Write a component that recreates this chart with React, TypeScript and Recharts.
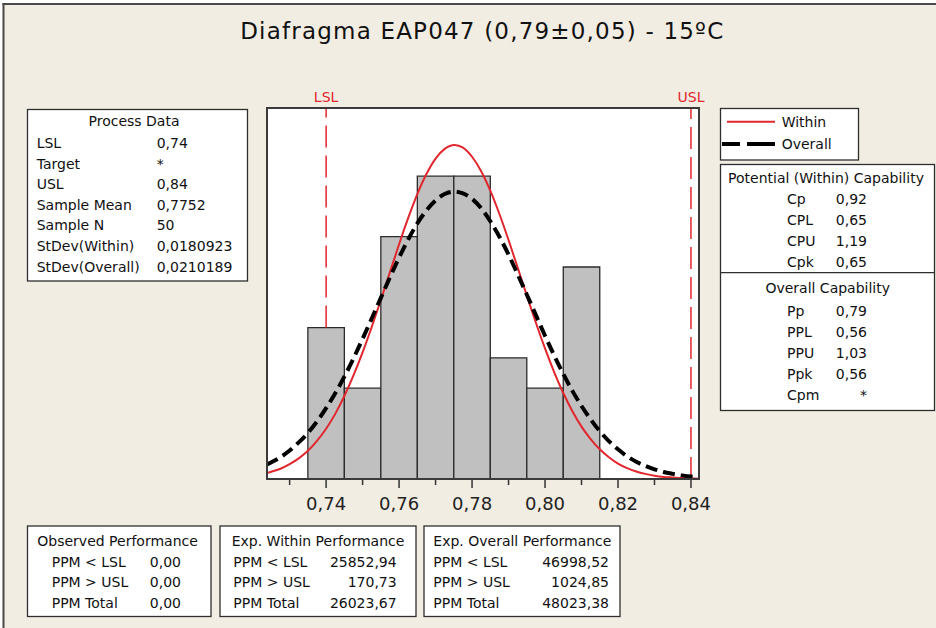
import React from "react";
import {
  ComposedChart,
  Line,
  XAxis,
  YAxis,
  ReferenceArea,
  ReferenceLine,
} from "recharts";

// ---------- data ----------
const BIN_EDGES = [0.735, 0.745, 0.755, 0.765, 0.775, 0.785, 0.795, 0.805, 0.815];
const COUNTS = [5, 3, 8, 10, 10, 4, 3, 7];

const CURVE_X = [
  0.7238, 0.725, 0.7275, 0.73, 0.7325, 0.735, 0.7375, 0.74, 0.7425, 0.745, 0.7475, 0.75,
  0.7525, 0.755, 0.7575, 0.76, 0.7625, 0.765, 0.7675, 0.77, 0.7725, 0.7752, 0.7775, 0.78,
  0.7825, 0.785, 0.7875, 0.79, 0.7925, 0.795, 0.7975, 0.8, 0.8025, 0.805, 0.8075, 0.81,
  0.8125, 0.815, 0.8175, 0.82, 0.8225, 0.825, 0.8275, 0.83, 0.8325, 0.835, 0.8375, 0.84,
  0.8422,
];
const WITHIN_Y = [
  0.2, 0.24, 0.34, 0.49, 0.68, 0.93, 1.26, 1.66, 2.15, 2.74, 3.42, 4.18, 5.02, 5.91, 6.83,
  7.75, 8.62, 9.41, 10.07, 10.58, 10.9, 11.03, 10.94, 10.64, 10.16, 9.52, 8.75, 7.89, 6.98,
  6.06, 5.16, 4.31, 3.53, 2.84, 2.24, 1.73, 1.32, 0.98, 0.72, 0.51, 0.36, 0.25, 0.17, 0.11,
  0.07, 0.05, 0.03, 0.02, 0.01,
];
const OVERALL_Y = [
  0.48, 0.55, 0.72, 0.94, 1.21, 1.52, 1.9, 2.34, 2.83, 3.38, 3.98, 4.63, 5.3, 5.98, 6.66,
  7.31, 7.91, 8.44, 8.87, 9.2, 9.41, 9.49, 9.43, 9.25, 8.94, 8.51, 8.0, 7.41, 6.76, 6.09,
  5.41, 4.73, 4.08, 3.47, 2.91, 2.41, 1.97, 1.58, 1.25, 0.98, 0.75, 0.57, 0.43, 0.32, 0.23,
  0.17, 0.12, 0.08, 0.06,
];

const X_DOMAIN = [0.7238, 0.8422];
const Y_DOMAIN = [0, 12.25];
const TICKS = [0.73, 0.74, 0.75, 0.76, 0.77, 0.78, 0.79, 0.8, 0.81, 0.82, 0.83, 0.84];
const MAJOR_TICKS = [0.74, 0.76, 0.78, 0.8, 0.82, 0.84];
const LSL = 0.74;
const USL = 0.84;

const TITLE = "Diafragma EAP047 (0,79±0,05) - 15ºC";

const PROCESS_LABELS = ["LSL", "Target", "USL", "Sample Mean", "Sample N", "StDev(Within)", "StDev(Overall)"];
const PROCESS_VALUES = ["0,74", "*", "0,84", "0,7752", "50", "0,0180923", "0,0210189"];

const POTENTIAL_LABELS = ["Cp", "CPL", "CPU", "Cpk"];
const POTENTIAL_VALUES = ["0,92", "0,65", "1,19", "0,65"];
const OVERALL_LABELS = ["Pp", "PPL", "PPU", "Ppk", "Cpm"];
const OVERALL_VALUES = ["0,79", "0,56", "1,03", "0,56", "*"];

const PERF_LABELS = ["PPM < LSL", "PPM > USL", "PPM Total"];
const OBSERVED_VALUES = ["0,00", "0,00", "0,00"];
const EXP_WITHIN_VALUES = ["25852,94", "170,73", "26023,67"];
const EXP_OVERALL_VALUES = ["46998,52", "1024,85", "48023,38"];

// ---------- styles ----------
const FONT = "DejaVu Sans";
const BG = "#F2EDE3";
const RED = "#E2262E";
const BOX = "#2e2e2e";

const withinData = CURVE_X.map((x, i) => ({ x, y: WITHIN_Y[i] }));
const overallData = CURVE_X.map((x, i) => ({ x, y: OVERALL_Y[i] }));

function AxisTick(props: any) {
  const { x, y, payload } = props;
  const v = payload.value as number;
  const major = MAJOR_TICKS.some((m) => Math.abs(m - v) < 1e-6);
  return (
    <g>
      <line x1={x} x2={x} y1={y + 1} y2={y + (major ? 9 : 6)} stroke="#333" strokeWidth={1.5} />
      {major && (
        <text x={x} y={y + 31} textAnchor="middle" fontSize={18} fill="#222" fontFamily={FONT}>
          {v.toFixed(2).replace(".", ",")}
        </text>
      )}
    </g>
  );
}

function T(props: { x: number; y: number; anchor?: "start" | "middle" | "end"; size?: number; children: React.ReactNode }) {
  return (
    <text
      x={props.x}
      y={props.y}
      textAnchor={props.anchor || "start"}
      fontSize={props.size || 14}
      fontFamily={FONT}
      fill="#111"
    >
      {props.children}
    </text>
  );
}

function PerfBox(props: { left: number; right: number; title: string; titleX: number; labelX: number; valueX: number; values: string[] }) {
  const top = 526;
  const bottom = 616.5;
  return (
    <g>
      <rect x={props.left} y={top} width={props.right - props.left} height={bottom - top} fill="#fff" stroke={BOX} strokeWidth={1.3} />
      <T x={props.titleX} y={545.7}>{props.title}</T>
      {PERF_LABELS.map((l, i) => (
        <T key={l} x={props.labelX} y={566.7 + i * 20.5}>{l}</T>
      ))}
      {props.values.map((v, i) => (
        <T key={i} x={props.valueX} y={566.7 + i * 20.5} anchor="end">{v}</T>
      ))}
    </g>
  );
}

export default function App() {
  return (
    <div style={{ position: "absolute", left: 0, top: 0, width: 936, height: 628, background: BG, overflow: "hidden" }}>
      {/* plot background */}
      <div style={{ position: "absolute", left: 267, top: 108, width: 432, height: 371, background: "#fff" }} />
      <div style={{ position: "absolute", left: 0, top: 0 }}>
        <ComposedChart width={936} height={628} margin={{ top: 108, right: 237, bottom: 109, left: 267 }}>
          <XAxis
            type="number"
            dataKey="x"
            domain={X_DOMAIN}
            ticks={TICKS}
            interval={0}
            allowDataOverflow
            axisLine={false}
            tickLine={false}
            tickSize={0}
            tickMargin={0}
            height={40}
            tick={<AxisTick />}
          />
          <YAxis type="number" domain={Y_DOMAIN} hide width={0} allowDataOverflow />
          <ReferenceLine
            segment={[
              { x: LSL, y: COUNTS[0] },
              { x: LSL, y: Y_DOMAIN[1] },
            ]}
            stroke={RED}
            strokeWidth={1.5}
            strokeDasharray="22 8"
            label={{ value: "LSL", position: "top", fill: RED, fontSize: 14, offset: 6, fontFamily: FONT }}
          />
          <ReferenceLine
            x={USL}
            stroke={RED}
            strokeWidth={1.5}
            strokeDasharray="22 8"
            label={{ value: "USL", position: "top", fill: RED, fontSize: 14, offset: 6, fontFamily: FONT }}
          />
          {COUNTS.map((c, i) => (
            <ReferenceArea
              key={i}
              x1={BIN_EDGES[i]}
              x2={BIN_EDGES[i + 1]}
              y1={0}
              y2={c}
              fill="#C0C0C0"
              fillOpacity={1}
              stroke="#2b2b2b"
              strokeWidth={1.3}
            />
          ))}
          <Line
            data={withinData}
            dataKey="y"
            type="monotone"
            stroke={RED}
            strokeWidth={2}
            dot={false}
            activeDot={false}
            isAnimationActive={false}
          />
          <Line
            data={overallData}
            dataKey="y"
            type="monotone"
            stroke="#000"
            strokeWidth={4}
            strokeDasharray="12 6"
            dot={false}
            activeDot={false}
            isAnimationActive={false}
          />
        </ComposedChart>
      </div>
      <svg width={936} height={628} style={{ position: "absolute", left: 0, top: 0, pointerEvents: "none" }}>
        {/* outer frame */}
        <rect x={0} y={0} width={936} height={3} fill="#fff" />
        <rect x={0} y={0} width={2.5} height={628} fill="#fff" />
        <rect x={2.5} y={3} width={933.5} height={2} fill="#4a4a4a" />
        <rect x={2.5} y={3} width={2} height={625} fill="#4a4a4a" />

        {/* plot frame */}
        <rect x={267} y={108} width={432} height={371} fill="none" stroke="#3a3a3a" strokeWidth={2} />

        {/* title */}
        <text x={481.7} y={39.3} textAnchor="middle" fontSize={23} fontFamily={FONT} fill="#111" textLength={483} lengthAdjust="spacing">
          {TITLE}
        </text>

        {/* process data */}
        <rect x={27.5} y={109.5} width={220} height={171.5} fill="#fff" stroke={BOX} strokeWidth={1.3} />
        <T x={134} y={125.7} anchor="middle">Process Data</T>
        {PROCESS_LABELS.map((l, i) => (
          <T key={l} x={36.7} y={148 + i * 20.6}>{l}</T>
        ))}
        {PROCESS_VALUES.map((v, i) => (
          <T key={i} x={156.7} y={148 + i * 20.6}>{v}</T>
        ))}

        {/* legend */}
        <rect x={720.5} y={108.5} width={138} height={51.5} fill="#fff" stroke={BOX} strokeWidth={1.3} />
        <line x1={727} x2={775} y1={121.7} y2={121.7} stroke={RED} strokeWidth={2} />
        <line x1={722} x2={775} y1={144} y2={144} stroke="#000" strokeWidth={4} strokeDasharray="18 7 30 7" />
        <T x={781.7} y={126.7}>Within</T>
        <T x={781.7} y={149}>Overall</T>

        {/* capability */}
        <rect x={720.5} y={164.5} width={214} height={246} fill="#fff" stroke={BOX} strokeWidth={1.3} />
        <line x1={720.5} x2={934.5} y1={272.7} y2={272.7} stroke={BOX} strokeWidth={1.3} />
        <T x={826} y={183.3} anchor="middle">Potential (Within) Capability</T>
        {POTENTIAL_LABELS.map((l, i) => (
          <T key={l} x={787} y={203.5 + i * 21}>{l}</T>
        ))}
        {POTENTIAL_VALUES.map((v, i) => (
          <T key={i} x={867} y={203.5 + i * 21} anchor="end">{v}</T>
        ))}
        <T x={827.7} y={293.3} anchor="middle">Overall Capability</T>
        {OVERALL_LABELS.map((l, i) => (
          <T key={l} x={787} y={316 + i * 21.1}>{l}</T>
        ))}
        {OVERALL_VALUES.map((v, i) => (
          <T key={i} x={867} y={316 + i * 21.1} anchor="end">{v}</T>
        ))}

        {/* performance boxes */}
        <PerfBox left={27.5} right={211} title="Observed Performance" titleX={37.3} labelX={51.7} valueX={181} values={OBSERVED_VALUES} />
        <PerfBox left={220} right={416} title="Exp. Within Performance" titleX={231.7} labelX={233.3} valueX={396.7} values={EXP_WITHIN_VALUES} />
        <PerfBox left={424} right={620} title="Exp. Overall Performance" titleX={433.3} labelX={433.3} valueX={609} values={EXP_OVERALL_VALUES} />
      </svg>
    </div>
  );
}
